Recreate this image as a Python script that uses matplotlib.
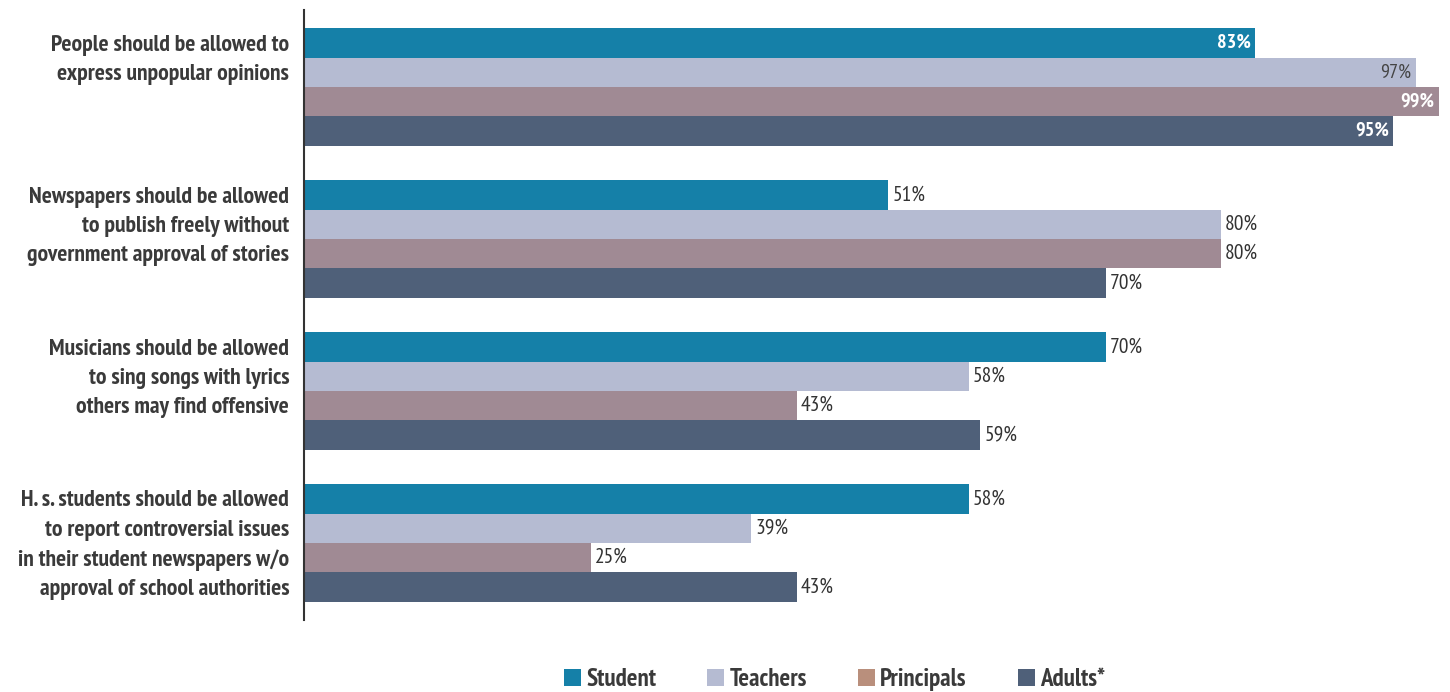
import matplotlib
matplotlib.use("Agg")
import matplotlib.pyplot as plt
from matplotlib.patches import Patch
import numpy as np

categories = [
    "People should be allowed to\nexpress unpopular opinions",
    "Newspapers should be allowed\nto publish freely without\ngovernment approval of stories",
    "Musicians should be allowed\nto sing songs with lyrics\nothers may find offensive",
    "H. s. students should be allowed\nto report controversial issues\nin their student newspapers w/o\napproval of school authorities",
]
series_names = ["Student", "Teachers", "Principals", "Adults*"]
student = [83, 51, 70, 58]
teachers = [97, 80, 58, 39]
principals = [99, 80, 43, 25]
adults = [95, 70, 59, 43]
values = [student, teachers, principals, adults]

bar_colors = ["#1580a8", "#b5bbd2", "#a08a94", "#4f6079"]
legend_colors = ["#1580a8", "#b5bbd2", "#b98f7c", "#4f6079"]
# labels drawn inside the bar: (series, category) -> colour style
inside_flags = {(0, 0): "w", (1, 0): "d", (2, 0): "w", (3, 0): "w"}

FAM = ['PT Sans Narrow', 'Archivo Narrow', 'DejaVu Sans']
plt.rcParams['font.family'] = FAM

fig = plt.figure(figsize=(14.5, 6.92), dpi=100)
ax = fig.add_axes([0.2097, 0.104, 0.7903, 0.8815])

h = 29.3 / 152
n = len(categories)
y = np.arange(n)
offsets = [-1.5, -0.5, 0.5, 1.5]
for s in range(4):
    ys = y + offsets[s] * h
    ax.barh(ys, values[s], height=h, color=bar_colors[s], edgecolor="none")
    for c in range(n):
        v = values[s][c]
        key = (s, c)
        if key in inside_flags:
            col = "white" if inside_flags[key] == "w" else "#444444"
            ax.text(v - 0.35, ys[c], f"{v}%", ha="right", va="center",
                    fontsize=14.5, color=col,
                    fontweight="bold" if col == "white" else "normal")
        else:
            ax.text(v + 0.35, ys[c], f"{v}%", ha="left", va="center",
                    fontsize=15.5, color="#333333")

for c in range(n):
    ax.text(-1.3, y[c] - 2 * h + 0.04, categories[c], ha="right", va="top",
            fontsize=17, color="#3a3a3a", linespacing=1.52, fontweight="bold")

ax.set_xlim(0, 100)
ax.set_ylim(3.507, -0.507)
ax.set_xticks([])
ax.set_yticks([])
for sp in ["top", "right", "bottom"]:
    ax.spines[sp].set_visible(False)
ax.spines["left"].set_linewidth(1.5)
ax.spines["left"].set_color("#333333")

handles = [Patch(facecolor=legend_colors[i], edgecolor="none") for i in range(4)]
fig.legend(handles, series_names, loc="center", bbox_to_anchor=(0.5755, 0.018),
           ncol=4, frameon=False, handlelength=0.68, handleheight=0.68,
           handletextpad=0.2, columnspacing=2.05,
           prop={"family": FAM, "size": 18, "weight": "bold"},
           labelcolor="#3a3a3a")

fig.savefig("out.png", dpi=100, facecolor="white")
